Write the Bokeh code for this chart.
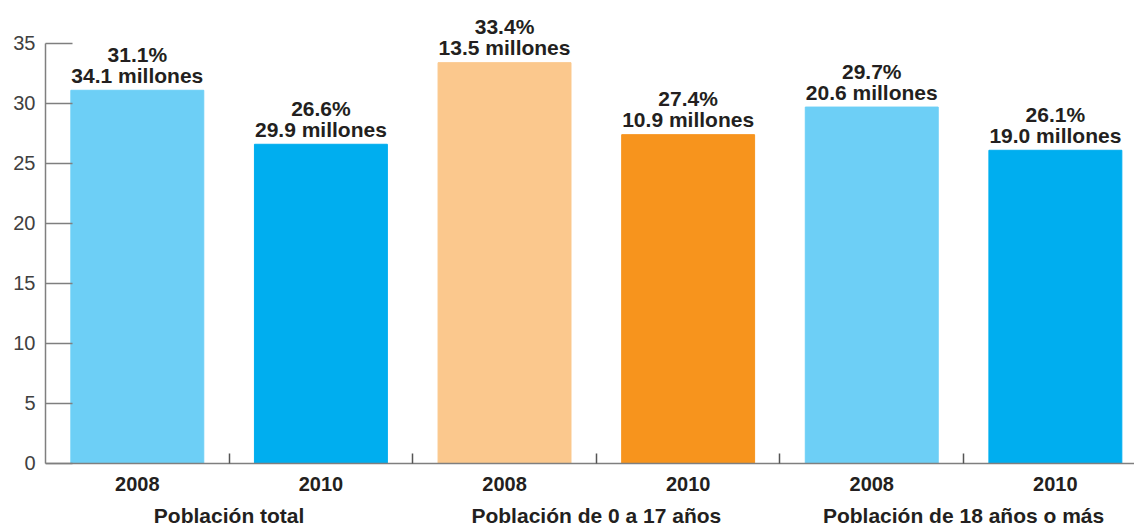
from bokeh.plotting import figure
from bokeh.models import Range1d, FixedTicker, ColumnDataSource
from bokeh.core.properties import value
from bokeh.embed import file_html
from bokeh.resources import INLINE

# ---- data ----
years = ["2008", "2010", "2008", "2010", "2008", "2010"]
groups = ["Población total", "Población de 0 a 17 años", "Población de 18 años o más"]
percent = [31.1, 26.6, 33.4, 27.4, 29.7, 26.1]
millions = [34.1, 29.9, 13.5, 10.9, 20.6, 19.0]
colors = ["#6DCFF6", "#00AEEF", "#FBC88D", "#F7941D", "#6DCFF6", "#00AEEF"]
y_ticks = [0, 5, 10, 15, 20, 25, 30, 35]

xs = [i + 0.5 for i in range(len(percent))]
boundaries = [1, 2, 3, 4, 5]
group_x = [1, 3, 5]

FONT = "Liberation Sans"
TXT = "#231F20"
AX = "#7f7f7f"

p = figure(width=1134, height=529, output_backend="svg", toolbar_location=None,
           x_range=Range1d(0, 5.931), y_range=Range1d(-5.5, 38.58),
           min_border_left=45, min_border_right=0, min_border_top=0, min_border_bottom=0)
p.outline_line_color = None
p.xgrid.visible = False
p.ygrid.visible = False
p.background_fill_color = "white"
p.border_fill_color = "white"

src = ColumnDataSource(dict(
    x=xs, top=percent, color=colors,
    l1=[f"{v:.1f}%" for v in percent],
    l2=[f"{m:.1f} millones" for m in millions],
))
p.vbar(x="x", top="top", width=0.724, bottom=0, color="color", source=src)

bold = dict(text_align="center", text_baseline="alphabetic", text_font=value(FONT),
            text_font_style="bold", text_color=TXT)
p.text(x="x", y="top", text="l2", source=src, y_offset=-15, text_font_size="21px", **bold)
p.text(x="x", y="top", text="l1", source=src, y_offset=-36, text_font_size="21px", **bold)

# category labels below the axis line
p.text(x=xs, y=[0] * len(xs), text=years, y_offset=21, text_font_size="20px", **bold)
p.text(x=group_x, y=[0] * len(group_x), text=groups, y_offset=52, text_font_size="21px", **bold)

# y axis
ya = p.yaxis[0]
ya.ticker = FixedTicker(ticks=y_ticks)
ya.bounds = (0, 35)
ya.major_tick_in = 27
ya.major_tick_out = 0
ya.minor_tick_line_color = None
ya.axis_line_color = AX
ya.axis_line_width = 1.5
ya.major_tick_line_color = AX
ya.major_tick_line_width = 1.5
ya.major_label_text_font = FONT
ya.major_label_text_font_size = "20px"
ya.major_label_text_color = "#404040"
ya.major_label_standoff = 10

# x axis drawn at y = 0
xa = p.xaxis[0]
xa.fixed_location = 0
xa.ticker = FixedTicker(ticks=boundaries)
xa.major_tick_in = 10
xa.major_tick_out = 0
xa.minor_tick_line_color = None
xa.axis_line_color = AX
xa.axis_line_width = 1.5
xa.major_tick_line_color = "#555555"
xa.major_tick_line_width = 1.5
xa.major_label_text_alpha = 0
xa.major_label_text_font_size = "0px"
xa.major_label_standoff = 0

open("out.html", "w").write(file_html(p, INLINE))
